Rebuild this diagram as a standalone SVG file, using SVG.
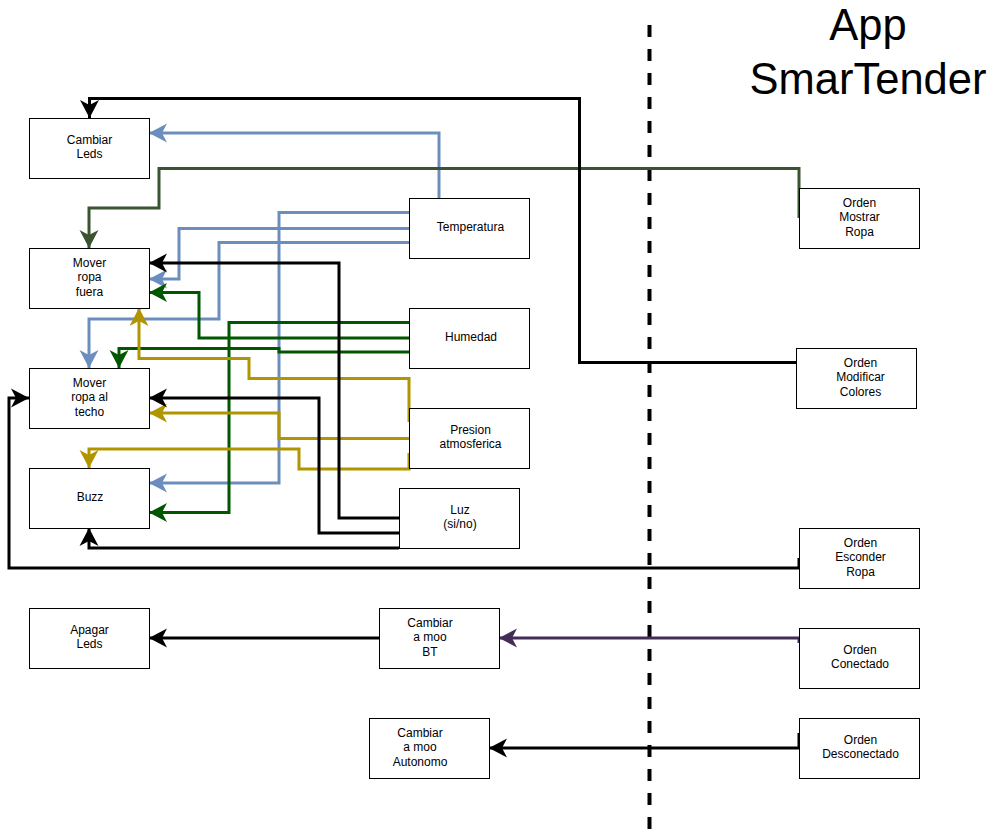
<svg xmlns="http://www.w3.org/2000/svg" width="993" height="832" viewBox="0 0 993 832">
<style>
.box{fill:#fff;stroke:#000;stroke-width:1}
.lbl{font-family:"Liberation Sans",Arial,sans-serif;font-size:12px;fill:#000;text-anchor:middle}
.title{font-family:"Liberation Sans",Arial,sans-serif;font-size:43.5px;fill:#000;text-anchor:middle}
.c{fill:none;stroke-width:3;stroke-linejoin:miter;stroke-linecap:butt}
.k{stroke:#000}
.b{stroke:#6C8EBF}
.g{stroke:#005700}
.dg{stroke:#3A5431}
.y{stroke:#B09500}
.p{stroke:#432D57}
</style>
<defs>
<marker id="ak" markerUnits="userSpaceOnUse" markerWidth="20" markerHeight="20" refX="18" refY="10" orient="auto"><path d="M18,10 L0,0.5 L5,10 L0,19.5 Z" fill="#000"/></marker>
<marker id="ab" markerUnits="userSpaceOnUse" markerWidth="20" markerHeight="20" refX="18" refY="10" orient="auto"><path d="M18,10 L0,0.5 L5,10 L0,19.5 Z" fill="#6C8EBF"/></marker>
<marker id="ag" markerUnits="userSpaceOnUse" markerWidth="20" markerHeight="20" refX="18" refY="10" orient="auto"><path d="M18,10 L0,0.5 L5,10 L0,19.5 Z" fill="#005700"/></marker>
<marker id="adg" markerUnits="userSpaceOnUse" markerWidth="20" markerHeight="20" refX="18" refY="10" orient="auto"><path d="M18,10 L0,0.5 L5,10 L0,19.5 Z" fill="#3A5431"/></marker>
<marker id="ay" markerUnits="userSpaceOnUse" markerWidth="20" markerHeight="20" refX="18" refY="10" orient="auto"><path d="M18,10 L0,0.5 L5,10 L0,19.5 Z" fill="#B09500"/></marker>
<marker id="ap" markerUnits="userSpaceOnUse" markerWidth="20" markerHeight="20" refX="18" refY="10" orient="auto"><path d="M18,10 L0,0.5 L5,10 L0,19.5 Z" fill="#432D57"/></marker>
</defs>
<rect width="993" height="832" fill="#fff"/>
<line x1="649.5" y1="25" x2="649.5" y2="832" stroke="#000" stroke-width="4" stroke-dasharray="12 12"/>
<g id="title">
<text class="title" x="868" y="40">App</text>
<text class="title" x="868" y="94">SmarTender</text>
</g>
<g id="connectors">
<path class="c b" d="M439,198 L439,133 L149,133" marker-end="url(#ab)"/>
<path class="c b" d="M409,212.5 L279,212.5 L279,483 L149,483" marker-end="url(#ab)"/>
<path class="c b" d="M409,228.5 L179,228.5 L179,279 L149,279" marker-end="url(#ab)"/>
<path class="c b" d="M409,242.5 L219,242.5 L219,319 L89,319 L89,368" marker-end="url(#ab)"/>
<path class="c dg" d="M799,218 L799,168.5 L159,168.5 L159,208 L89,208 L89,248" marker-end="url(#adg)"/>
<path class="c g" d="M409,322.5 L229,322.5 L229,512.5 L149,512.5" marker-end="url(#ag)"/>
<path class="c g" d="M409,338 L199,338 L199,292.5 L149,292.5" marker-end="url(#ag)"/>
<path class="c g" d="M409,352 L279,352 L279,348.5 L119,348.5 L119,368" marker-end="url(#ag)"/>
<path class="c y" d="M409,422 L409,378.5 L249,378.5 L249,358.5 L139,358.5 L139,308" marker-end="url(#ay)"/>
<path class="c y" d="M409,438.5 L279,438.5 L279,413 L149,413" marker-end="url(#ay)"/>
<path class="c y" d="M409,453 L409,469 L299,469 L299,449 L89,449 L89,468" marker-end="url(#ay)"/>
<path class="c k" d="M796,362.5 L579.5,362.5 L579.5,98.5 L89.5,98.5 L89.5,118" marker-end="url(#ak)"/>
<path class="c k" d="M399,518 L339,518 L339,263 L149,263" marker-end="url(#ak)"/>
<path class="c k" d="M399,533 L319,533 L319,398 L149,398" marker-end="url(#ak)"/>
<path class="c k" d="M399,548 L89,548 L89,528" marker-end="url(#ak)"/>
<path class="c k" d="M799,558 L799,568 L9,568 L9,398 L29,398" marker-end="url(#ak)"/>
<path class="c k" d="M379,638 L149,638" marker-end="url(#ak)"/>
<path class="c k" d="M799,733 L799,748 L489,748" marker-end="url(#ak)"/>
<path class="c p" d="M799,643 L799,638 L499,638" marker-end="url(#ap)"/>
</g>
<g id="cambiar-leds"><rect class="box" x="29.5" y="118.5" width="120" height="60"/><text class="lbl" x="89.5" y="144">Cambiar</text><text class="lbl" x="89.5" y="158.4">Leds</text></g>
<g id="mover-ropa-fuera"><rect class="box" x="29.5" y="248.5" width="120" height="60"/><text class="lbl" x="89.5" y="266.8">Mover</text><text class="lbl" x="89.5" y="281.2">ropa</text><text class="lbl" x="89.5" y="295.6">fuera</text></g>
<g id="mover-ropa-techo"><rect class="box" x="29.5" y="368.5" width="120" height="60"/><text class="lbl" x="89.5" y="386.8">Mover</text><text class="lbl" x="89.5" y="401.2">ropa al</text><text class="lbl" x="89.5" y="415.6">techo</text></g>
<g id="buzz"><rect class="box" x="29.5" y="468.5" width="120" height="60"/><text class="lbl" x="90" y="501.2">Buzz</text></g>
<g id="temperatura"><rect class="box" x="409.5" y="198.5" width="120" height="60"/><text class="lbl" x="470.5" y="231.2">Temperatura</text></g>
<g id="humedad"><rect class="box" x="409.5" y="308.5" width="120" height="60"/><text class="lbl" x="471" y="341.2">Humedad</text></g>
<g id="presion"><rect class="box" x="409.5" y="408.5" width="120" height="60"/><text class="lbl" x="470.5" y="434">Presion</text><text class="lbl" x="470.5" y="448.4">atmosferica</text></g>
<g id="luz"><rect class="box" x="399.5" y="488.5" width="120" height="60"/><text class="lbl" x="460" y="514">Luz</text><text class="lbl" x="460" y="528.4">(si/no)</text></g>
<g id="apagar-leds"><rect class="box" x="29.5" y="608.5" width="120" height="60"/><text class="lbl" x="89.5" y="634">Apagar</text><text class="lbl" x="89.5" y="648.4">Leds</text></g>
<g id="cambiar-bt"><rect class="box" x="379.5" y="608.5" width="120" height="60"/><text class="lbl" x="430" y="626.8">Cambiar</text><text class="lbl" x="430" y="641.2">a moo</text><text class="lbl" x="430" y="655.6">BT</text></g>
<g id="cambiar-autonomo"><rect class="box" x="369.5" y="718.5" width="120" height="60"/><text class="lbl" x="420" y="736.8">Cambiar</text><text class="lbl" x="420" y="751.2">a moo</text><text class="lbl" x="420" y="765.6">Autonomo</text></g>
<g id="orden-mostrar"><rect class="box" x="799.5" y="188.5" width="120" height="60"/><text class="lbl" x="859.5" y="206.8">Orden</text><text class="lbl" x="859.5" y="221.2">Mostrar</text><text class="lbl" x="859.5" y="235.6">Ropa</text></g>
<g id="orden-modificar"><rect class="box" x="796.5" y="348.5" width="120" height="60"/><text class="lbl" x="860.5" y="366.8">Orden</text><text class="lbl" x="860.5" y="381.2">Modificar</text><text class="lbl" x="860.5" y="395.6">Colores</text></g>
<g id="orden-esconder"><rect class="box" x="799.5" y="528.5" width="120" height="60"/><text class="lbl" x="860.5" y="546.8">Orden</text><text class="lbl" x="860.5" y="561.2">Esconder</text><text class="lbl" x="860.5" y="575.6">Ropa</text></g>
<g id="orden-conectado"><rect class="box" x="799.5" y="628.5" width="120" height="60"/><text class="lbl" x="860" y="654">Orden</text><text class="lbl" x="860" y="668.4">Conectado</text></g>
<g id="orden-desconectado"><rect class="box" x="799.5" y="718.5" width="120" height="60"/><text class="lbl" x="860.5" y="744">Orden</text><text class="lbl" x="860.5" y="758.4">Desconectado</text></g>
</svg>
